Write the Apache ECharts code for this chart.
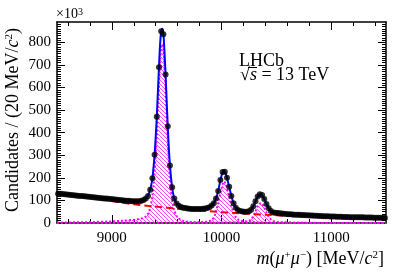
<!DOCTYPE html>
<html><head><meta charset="utf-8">
<script src="https://cdn.jsdelivr.net/npm/echarts@6/dist/echarts.min.js"></script>
<style>html,body{margin:0;padding:0;background:#fff}#c{width:407px;height:276px}</style>
</head><body><div id="c"></div>
<script>
// ---- data ----
const binLow = 8500, binWidth = 20;
const counts = [130,129,128,127,126,125,124,123,122,121,120,119,118,117,116,115,114,113,112,111,
110,109,108,107,106,105,104,103,102,101,100,99,98,97,96,96,96,96,98,102,
108,120,147,198,302,471,690,849,836,658,428,255,158,108,86,76,71,68,66,64,
63,62,62,62,62,62,63,64,66,70,77,88,108,142,190,226,227,200,160,120,
88,68,58,53,51,50,50,52,59,74,96,117,127,124,106,84,65,53,47,45,
44,43,42,41,40,39,39,38,37,36,36,35,35,34,34,33,33,32,32,31,
31,30,30,30,29,29,29,28,28,28,27,27,27,26,26,26,25,25,25,25,
24,24,24,24,23,23,23,23,22,22];
const fitMass = [8500,8700,8900,9100,9200,9250,9290,9310,9330,9350,9360,9370,9380,9390,9400,9410,9420,9430,9440,9450,9460,9470,9480,9490,9500,9510,9520,9530,9540,9550,9560,9570,9590,9610,9650,9700,9750,9800,9850,9890,9910,9930,9950,9970,9990,10000,10010,10020,10030,10040,10050,10070,10090,10110,10130,10150,10200,10250,10270,10290,10310,10330,10350,10360,10370,10390,10410,10430,10450,10470,10500,10700,11000,11250,11500];
const fitVals = [131,121,111,100,96,96,101,108,121,148,170,198,245,302,380,471,580,690,790,848,860,838,760,658,540,428,330,255,200,158,128,108,86,76,68,64,62,62,64,70,77,88,108,142,190,208,224,230,227,216,200,160,120,88,68,58,51,52,59,74,96,117,127,128,124,106,84,65,53,47,44.5,36,29,25,22];
const bkgMass = [8500,8750,9000,9150,9250,9500,9750,10000,10250,10500,10750,11000,11250,11500];
const bkgVals = [130,115,97,86,80,68,57,48,40.5,34,28.5,24,20,17];
const s1Mass = [8500,8800,9000,9100,9200,9250,9290,9310,9330,9350,9360,9370,9380,9390,9400,9410,9420,9430,9440,9450,9460,9470,9480,9490,9500,9510,9520,9530,9540,9550,9560,9570,9590,9610,9650,9700,9800,10000,10500,11500];
const s1Vals = [2,4,7,10,14,18,23,29,41,67,90,120,167,225,305,395,505,615,718,778,792,770,693,593,477,366,270,196,142,102,73,54,31,20,10,5,2,1,0.5,0];
const s2Mass = [8500,9500,9700,9800,9850,9890,9910,9930,9950,9970,9990,10000,10010,10020,10030,10040,10050,10070,10090,10110,10130,10150,10200,10300,10500,11500];
const s2Vals = [0,0.5,1,3,5,9,14,24,52,90,132,152,172,183,180,170,155,115,76,45,26,16,7,3,1,0];
const s3Mass = [8500,10000,10100,10200,10250,10270,10290,10310,10330,10350,10360,10370,10390,10410,10430,10450,10470,10500,10700,11500];
const s3Vals = [0,0.5,2,5,10,16,30,52,74,87,88,85,68,47,28,16,9,5,1,0];
const xTickLabels = [9000,10000,11000];
const yTickLabels = [0,100,200,300,400,500,600,700,800];

// ---- build ----
const FONT = 'Liberation Serif';
const zip = (a,b) => a.map((v,i)=>[v,b[i]]);
const dataPts = counts.map((c,i)=>[binLow + binWidth*(i+0.5), c]);
const xMinor = []; for (let v = 8600; v < 11500; v += 200) if (v % 1000) xMinor.push(v);
const yMinor = []; for (let v = 10; v < 890; v += 10) if (v % 100) yMinor.push(v);

function hatch(){
  const c = document.createElement('canvas'); c.width = 4; c.height = 4;
  const g = c.getContext('2d'); g.strokeStyle = '#ff33ff'; g.lineWidth = 0.9;
  g.beginPath(); g.moveTo(-1,-1); g.lineTo(5,5); g.moveTo(3,-1); g.lineTo(5,1); g.moveTo(-1,3); g.lineTo(1,5); g.stroke();
  return c;
}
const pat = {image: hatch(), repeat: 'repeat'};

function ax(dim, pos, ticks, len, line, labels){
  return {
    type:'value', position: pos,
    min: dim==='x'?8500:0, max: dim==='x'?11500:890,
    axisLine:{show:line, onZero:false, lineStyle:{color:'#000', width:1.5}},
    axisTick:{show:true, inside:true, length:len, customValues:ticks, lineStyle:{color:'#000', width:1}},
    axisLabel:{show:!!labels, customValues: labels || undefined, formatter: v => String(v),
      fontFamily:FONT, fontSize:15, color:'#000', margin: dim==='x'?8:6},
    splitLine:{show:false}
  };
}

const chart = echarts.init(document.getElementById('c'), null, {renderer:'canvas'});
const sigSeries = (m,v) => ({
  type:'line', data: zip(m,v), smooth:0.3, showSymbol:false, z:2,
  lineStyle:{type:'dotted', color:'#ff00ff', width:2},
  areaStyle:{color: pat, opacity:1}
});
chart.setOption({
  animation:false,
  grid:{left:57, right:21, top:22, bottom:53, containLabel:false},
  xAxis:[
    ax('x','bottom', xTickLabels, 8, true, xTickLabels),
    ax('x','bottom', xMinor, 4, false, null),
    ax('x','top', xTickLabels, 8, true, null),
    ax('x','top', xMinor, 4, false, null)
  ],
  yAxis:[
    ax('y','left', yTickLabels, 8, true, yTickLabels),
    ax('y','left', yMinor, 4, false, null),
    ax('y','right', yTickLabels, 8, true, null),
    ax('y','right', yMinor, 4, false, null)
  ],
  series:[
    sigSeries(s1Mass, s1Vals),
    sigSeries(s2Mass, s2Vals),
    sigSeries(s3Mass, s3Vals),
    {type:'line', data: zip(bkgMass,bkgVals), smooth:0.4, showSymbol:false, z:3,
     lineStyle:{type:[7,4], color:'#ff0000', width:2}},
    {type:'line', data: zip(fitMass,fitVals), smooth:0.3, showSymbol:false, z:4,
     lineStyle:{color:'#0000ff', width:2}},
    {type:'scatter', data: dataPts, symbol:'circle', symbolSize:6, z:5,
     itemStyle:{color:'#000'}}
  ],
  graphic:[
    {type:'text', x:56, y:14, style:{text:'{n|×10}{s|3}', verticalAlign:'middle', align:'left',
      rich:{n:{fontFamily:FONT, fontSize:14, fill:'#000', verticalAlign:'bottom'}, s:{fontFamily:FONT, fontSize:10, fill:'#000', verticalAlign:'top'}}}},
    {type:'text', x:13, y:212, rotation:Math.PI/2, style:{
      text:'{n|Candidates / (20 MeV/}{i|c}{s|2}{n|)}', align:'left', verticalAlign:'middle',
      rich:{n:{fontFamily:FONT, fontSize:18, fill:'#000', verticalAlign:'bottom'},
            i:{fontFamily:FONT, fontSize:18, fontStyle:'italic', fill:'#000', verticalAlign:'bottom'},
            s:{fontFamily:FONT, fontSize:11, fill:'#000', verticalAlign:'top'}}}},
    {type:'text', x:384, y:259, style:{
      text:'{i|m}{n|(}{i|μ}{s|+}{i|μ}{s|−}{n|) [MeV/}{i|c}{s|2}{n|]}', align:'right', verticalAlign:'middle',
      rich:{n:{fontFamily:FONT, fontSize:18, fill:'#000', verticalAlign:'bottom'},
            i:{fontFamily:FONT, fontSize:18, fontStyle:'italic', fill:'#000', verticalAlign:'bottom'},
            s:{fontFamily:FONT, fontSize:11, fill:'#000', verticalAlign:'top'}}}},
    {type:'text', x:239, y:61, style:{text:'LHCb', fontFamily:FONT, fontSize:18, fill:'#000', align:'left', verticalAlign:'middle'}},
    {type:'text', x:240, y:75, style:{
      text:'{n|√}{i|s}{n| = 13 TeV}', align:'left', verticalAlign:'middle',
      rich:{n:{fontFamily:FONT, fontSize:18, fill:'#000'}, i:{fontFamily:FONT, fontSize:18, fontStyle:'italic', fill:'#000'}}}},
    {type:'line', shape:{x1:248, y1:67.5, x2:257, y2:67.5}, style:{stroke:'#000', lineWidth:1}}
  ]
});
</script></body></html>
